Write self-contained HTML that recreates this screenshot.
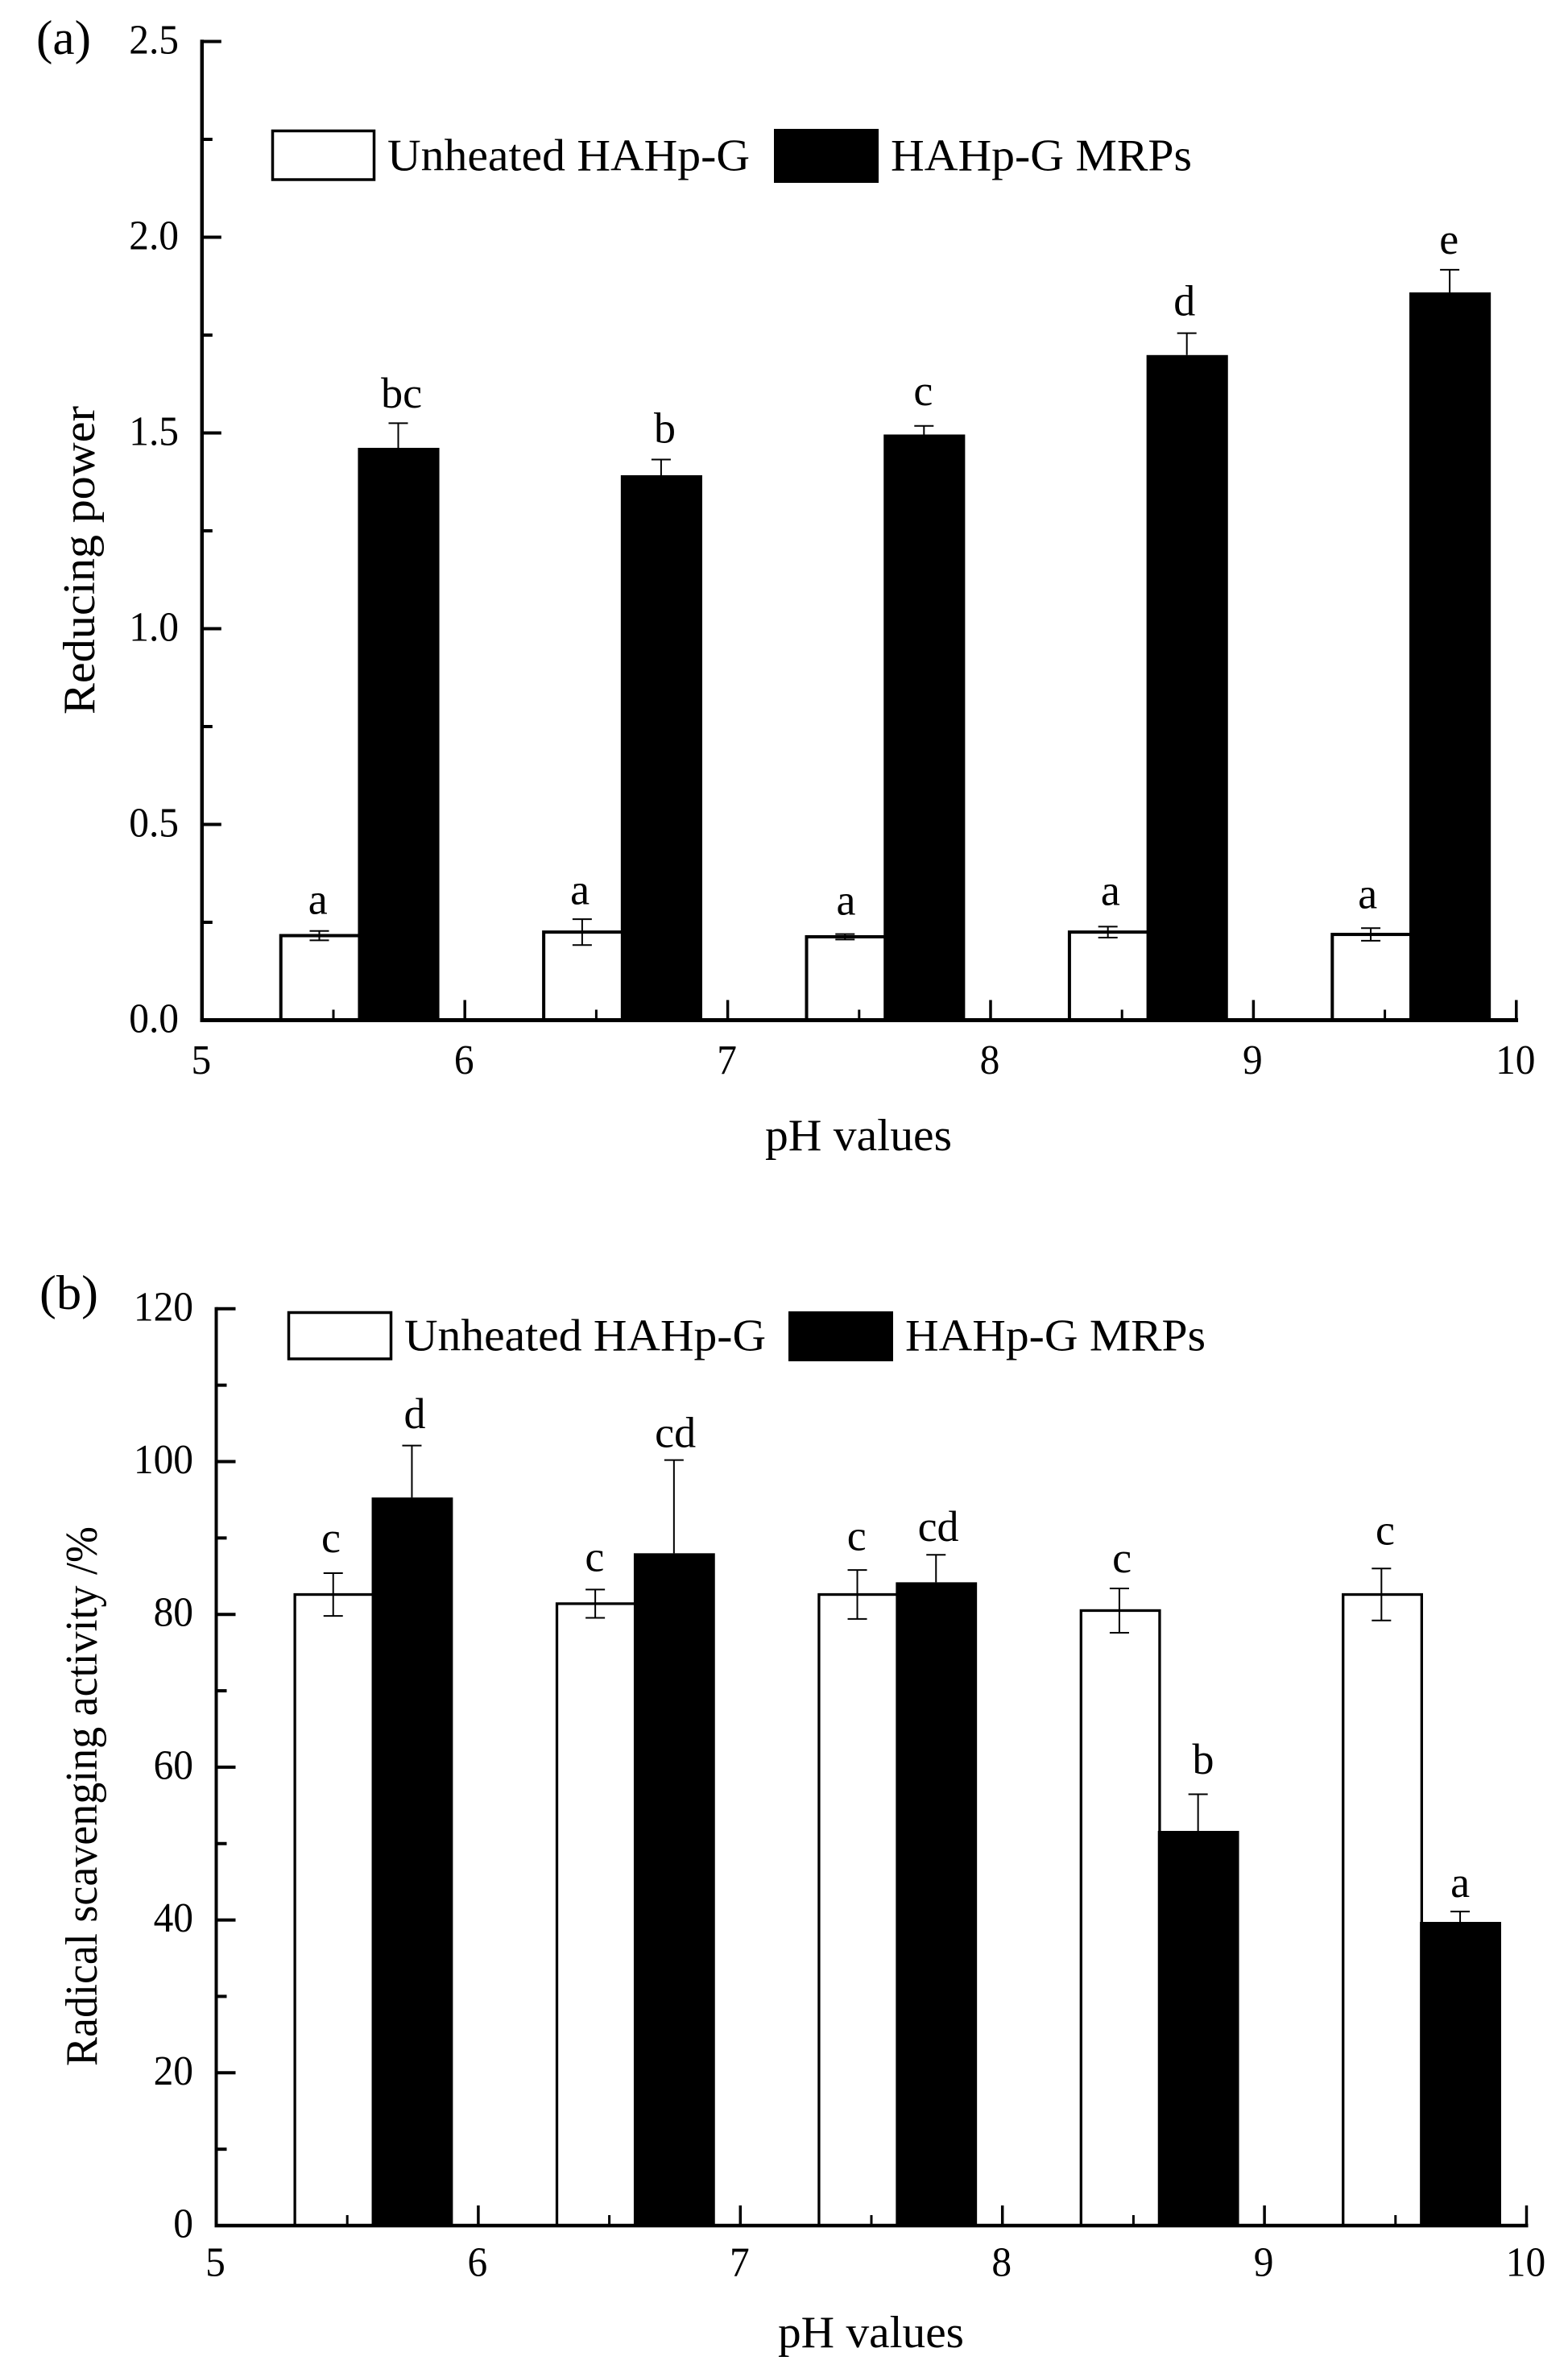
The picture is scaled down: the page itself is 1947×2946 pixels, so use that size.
<!DOCTYPE html>
<html lang="en">
<head>
<meta charset="utf-8">
<title>Reducing power and radical scavenging activity by pH</title>
<style>
html,body{margin:0;padding:0;background:#fff;}
svg{display:block;}
text{font-family:"Liberation Serif","Times New Roman",serif;fill:#000;}
</style>
</head>
<body>
<svg id="figure" xmlns="http://www.w3.org/2000/svg" width="1947" height="2946" viewBox="0 0 1947 2946">
  <rect x="0" y="0" width="1947" height="2946" fill="#fff"/>

  <g id="panel-a">
    <text x="45" y="67" font-size="60" textLength="68" lengthAdjust="spacingAndGlyphs">(a)</text>
    <text transform="translate(117 887) rotate(-90)" x="0" y="0" font-size="56" textLength="383" lengthAdjust="spacingAndGlyphs">Reducing power</text>
    <text x="950" y="1428" font-size="56" textLength="232" lengthAdjust="spacingAndGlyphs">pH values</text>
    <g>
      <rect x="338.5" y="162.5" width="126" height="60.5" fill="#fff" stroke="#000" stroke-width="3.5"/>
      <text x="481" y="211.5" font-size="56" textLength="450" lengthAdjust="spacingAndGlyphs">Unheated HAHp-G</text>
      <rect x="961" y="160" width="130" height="67" fill="#000"/>
      <text x="1106" y="211.5" font-size="56" textLength="374" lengthAdjust="spacingAndGlyphs">HAHp-G MRPs</text>
    </g>
  </g>

  <g id="panel-b">
    <text x="49" y="1625" font-size="60" textLength="73" lengthAdjust="spacingAndGlyphs">(b)</text>
    <text transform="translate(120 2565) rotate(-90)" x="0" y="0" font-size="56" textLength="670" lengthAdjust="spacingAndGlyphs">Radical scavenging activity /%</text>
    <text x="966" y="2914" font-size="56" textLength="231" lengthAdjust="spacingAndGlyphs">pH values</text>
    <g>
      <rect x="358.5" y="1629.5" width="127" height="57.5" fill="#fff" stroke="#000" stroke-width="3.5"/>
      <text x="502" y="1676.7" font-size="56" textLength="449" lengthAdjust="spacingAndGlyphs">Unheated HAHp-G</text>
      <rect x="979" y="1628" width="130" height="62" fill="#000"/>
      <text x="1124" y="1676.7" font-size="56" textLength="373" lengthAdjust="spacingAndGlyphs">HAHp-G MRPs</text>
    </g>
  </g>
</svg>

<script>
/* ---------- data ---------- */
const phLefts = [5, 6, 7, 8, 9];
const xTickValues = [5, 6, 7, 8, 9, 10];
const xTickLabels = ['5', '6', '7', '8', '9', '10'];

const reducingTickValues = [0, 0.5, 1, 1.5, 2, 2.5];
const reducingTickLabels = ['0.0', '0.5', '1.0', '1.5', '2.0', '2.5'];
const reducingUnheated = [0.216, 0.225, 0.213, 0.225, 0.219];
const reducingUnheatedErr = [0.012, 0.033, 0.007, 0.014, 0.016];
const reducingMrps = [1.462, 1.392, 1.496, 1.699, 1.859];
const reducingMrpsErr = [0.063, 0.040, 0.022, 0.056, 0.058];
const reducingUnheatedLetters = ['a', 'a', 'a', 'a', 'a'];
const reducingMrpsLetters = ['bc', 'b', 'c', 'd', 'e'];

const scavengingTickValues = [0, 20, 40, 60, 80, 100, 120];
const scavengingTickLabels = ['0', '20', '40', '60', '80', '100', '120'];
const scavengingUnheated = [82.6, 81.4, 82.6, 80.5, 82.6];
const scavengingUnheatedErr = [2.8, 1.85, 3.2, 2.9, 3.4];
const scavengingMrps = [95.3, 88.0, 84.2, 51.66, 39.75];
const scavengingMrpsErr = [6.8, 12.2, 3.6, 4.8, 1.35];
const scavengingUnheatedLetters = ['c', 'c', 'c', 'c', 'c'];
const scavengingMrpsLetters = ['d', 'cd', 'cd', 'b', 'a'];

/* ---------- layout (not data) ---------- */
const panelLayouts = {
  a: {
    x0: 250.8, xUnit: 326.4, y0: 1266.5, yUnit: 486, yMax: 2.5, yMinorStep: 0.25,
    axisW: 4.5, barStroke: 4, yLabelRight: 222, yLabelDy: 15, xLabelBaseline: 1333,
    whiteShift: [-3, -4, 0, 2, -5], whiteLift: [21, 18.5, 24, 27, 25],
    blackShift: [3, 3.5, -2, -4, -2], blackLift: [19.4, 21, 26, 22.3, 20]
  },
  b: {
    x0: 268.5, xUnit: 325.4, y0: 2763, yUnit: 9.485, yMax: 120, yMinorStep: 10,
    axisW: 4, barStroke: 3.3, yLabelRight: 240, yLabelDy: 14.5, xLabelBaseline: 2825.5,
    whiteShift: [-4, -2, -2, 2, 3.5], whiteLift: [26, 23, 24.6, 20, 29.8],
    blackShift: [2.5, 0.7, 1.7, 5.3, -1], blackLift: [21.7, 16, 17, 25.6, 18]
  }
};

const SVG_NS = 'http://www.w3.org/2000/svg';
const TICK_FONT = 52;
const TICK_SQUEEZE = 0.95;

function shape(parent, tag, props) {
  const el = document.createElementNS(SVG_NS, tag);
  for (const k in props) el.setAttribute(k, props[k]);
  parent.appendChild(el);
  return el;
}

/* width of a numeric label: the reference digits are slightly narrower than the font's */
function tickWidth(label) {
  let em = 0;
  for (const ch of label) em += ch === '.' ? 0.25 : 0.5;
  return em * TICK_FONT * TICK_SQUEEZE;
}

function drawPanel(panelId, L, ticksY, labelsY, white, whiteErr, black, blackErr, whiteLetters, blackLetters) {
  const root = document.getElementById(panelId);
  const xScale = p => L.x0 + L.xUnit * (p - 5);
  const yScale = v => L.y0 - L.yUnit * v;

  phLefts.forEach((ph, i) => {
    /* unheated bar */
    const wl = xScale(ph + 0.3), wr = xScale(ph + 0.6), wt = yScale(white[i]);
    const wBar = shape(root, 'rect', {
      x: wl, y: wt, width: wr - wl, height: L.y0 - wt,
      fill: '#fff', stroke: '#000', 'stroke-width': L.barStroke
    });
    
    
  });

  phLefts.forEach((ph, i) => {
    /* MRP bar, painted over the unheated bar's right edge */
    const bl = xScale(ph + 0.6) - 2.2, br = xScale(ph + 0.9) + 1, bt = yScale(black[i]);
    const bBar = shape(root, 'rect', {
      x: bl, y: bt, width: br - bl, height: L.y0 - bt, fill: '#000'
    });
    
    
  });

  phLefts.forEach((ph, i) => {
    /* unheated error bar */
    const cx = xScale(ph + 0.45) - 1.2;
    const hi = yScale(white[i] + whiteErr[i]), lo = yScale(white[i] - whiteErr[i]);
    const wErr = shape(root, 'path', {
      d: 'M' + (cx - 12) + ' ' + hi + 'H' + (cx + 12) + 'M' + cx + ' ' + hi + 'V' + lo + 'M' + (cx - 12) + ' ' + lo + 'H' + (cx + 12),
      fill: 'none', stroke: '#000', 'stroke-width': 2
    });
    
    

    /* MRP error bar: upper half only */
    const cb = xScale(ph + 0.75) - 1.1;
    const top = yScale(black[i] + blackErr[i]), base = yScale(black[i]);
    const bErr = shape(root, 'path', {
      d: 'M' + (cb - 12) + ' ' + top + 'H' + (cb + 12) + 'M' + cb + ' ' + top + 'V' + base,
      fill: 'none', stroke: '#000', 'stroke-width': 2
    });
    
    

    /* significance letters */
    const wTxt = shape(root, 'text', {
      x: xScale(ph + 0.45) + L.whiteShift[i], y: hi - L.whiteLift[i],
      'font-size': 54, 'text-anchor': 'middle'
    });
    wTxt.textContent = whiteLetters[i];
    
    

    const bTxt = shape(root, 'text', {
      x: xScale(ph + 0.75) + L.blackShift[i], y: top - L.blackLift[i],
      'font-size': 54, 'text-anchor': 'middle'
    });
    bTxt.textContent = blackLetters[i];
    
    
  });

  /* axes */
  const yAxis = shape(root, 'line', {
    x1: L.x0, x2: L.x0, y1: yScale(L.yMax) - L.axisW / 2, y2: L.y0 + L.axisW / 2,
    stroke: '#000', 'stroke-width': L.axisW
  });
  
  

  const xAxis = shape(root, 'line', {
    x1: L.x0 - L.axisW / 2, x2: xScale(10) + L.axisW / 2, y1: L.y0, y2: L.y0,
    stroke: '#000', 'stroke-width': L.axisW + 0.5
  });
  
  

  /* y ticks */
  ticksY.forEach((v, i) => {
    const t = shape(root, 'line', {
      x1: L.x0, x2: L.x0 + 24, y1: yScale(v), y2: yScale(v), stroke: '#000', 'stroke-width': 4
    });
    
    

    const lab = shape(root, 'text', {
      x: L.yLabelRight - tickWidth(labelsY[i]), y: yScale(v) + L.yLabelDy, 'font-size': TICK_FONT,
      textLength: tickWidth(labelsY[i]), lengthAdjust: 'spacingAndGlyphs'
    });
    lab.textContent = labelsY[i];
    
    

    if (i < ticksY.length - 1) {
      const m = v + L.yMinorStep;
      const mt = shape(root, 'line', {
        x1: L.x0, x2: L.x0 + 13, y1: yScale(m), y2: yScale(m), stroke: '#000', 'stroke-width': 4
      });
      
      
    }
  });

  /* x ticks */
  xTickValues.forEach((p, i) => {
    if (i > 0) {
      const t = shape(root, 'line', {
        x1: xScale(p), x2: xScale(p), y1: L.y0, y2: L.y0 - 25, stroke: '#000', 'stroke-width': 3.5
      });
      
      
    }
    const lab = shape(root, 'text', {
      x: xScale(p) - 1 - tickWidth(xTickLabels[i]) / 2, y: L.xLabelBaseline, 'font-size': TICK_FONT,
      textLength: tickWidth(xTickLabels[i]), lengthAdjust: 'spacingAndGlyphs'
    });
    lab.textContent = xTickLabels[i];
    
    

    if (i < xTickValues.length - 1) {
      const m = p + 0.5;
      const mt = shape(root, 'line', {
        x1: xScale(m), x2: xScale(m), y1: L.y0, y2: L.y0 - 13, stroke: '#000', 'stroke-width': 3
      });
      
      
    }
  });
}

drawPanel('panel-a', panelLayouts.a, reducingTickValues, reducingTickLabels,
  reducingUnheated, reducingUnheatedErr, reducingMrps, reducingMrpsErr,
  reducingUnheatedLetters, reducingMrpsLetters);

drawPanel('panel-b', panelLayouts.b, scavengingTickValues, scavengingTickLabels,
  scavengingUnheated, scavengingUnheatedErr, scavengingMrps, scavengingMrpsErr,
  scavengingUnheatedLetters, scavengingMrpsLetters);
</script>
</body>
</html>
